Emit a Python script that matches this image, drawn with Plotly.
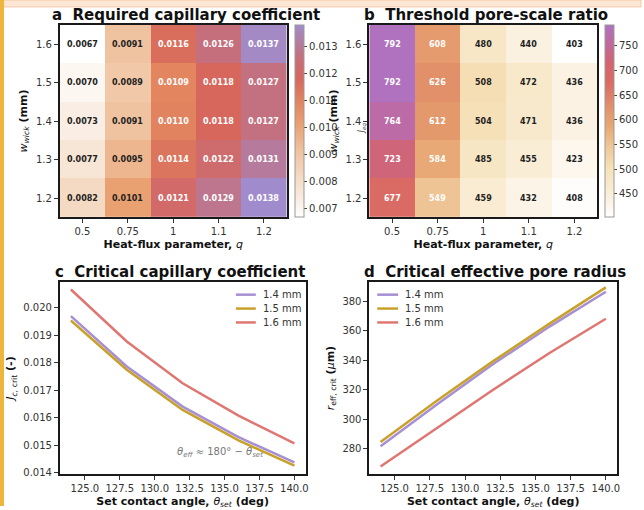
import plotly.graph_objects as go

W, H = 644, 510

q_labels = ["0.5", "0.75", "1", "1.1", "1.2"]
w_wick = [1.2, 1.3, 1.4, 1.5, 1.6]

# rows follow w_wick order (1.2 -> 1.6)
jc_req = [
    [0.0082, 0.0101, 0.0121, 0.0129, 0.0138],
    [0.0077, 0.0095, 0.0114, 0.0122, 0.0131],
    [0.0073, 0.0091, 0.0110, 0.0118, 0.0127],
    [0.0070, 0.0089, 0.0109, 0.0118, 0.0127],
    [0.0067, 0.0091, 0.0116, 0.0126, 0.0137],
]
ratio = [
    [677, 549, 459, 432, 408],
    [723, 584, 485, 455, 423],
    [764, 612, 504, 471, 436],
    [792, 626, 508, 472, 436],
    [792, 608, 480, 440, 403],
]

theta_set = [124, 128, 132, 136, 140]
series_names = ["1.4 mm", "1.5 mm", "1.6 mm"]
jc_crit = [
    [0.01970, 0.01787, 0.01641, 0.01530, 0.01438],
    [0.01954, 0.01775, 0.01629, 0.01518, 0.01426],
    [0.02067, 0.01878, 0.01726, 0.01608, 0.01507],
]
r_crit = [
    [281.6, 310.0, 337.5, 363.0, 386.7],
    [284.4, 312.5, 339.5, 365.0, 389.7],
    [267.8, 294.0, 320.0, 345.0, 368.3],
]
line_colors = ["#a68fd2", "#c9a12a", "#e07672"]

FONT = "DejaVu Sans"


def px(x):
    return x / W


def py(y):
    return 1 - y / H


cs_a = [
    [0.0, "#ffffff"], [0.1, "#f9ebdf"], [0.2, "#f5dcc6"], [0.35, "#f0c19d"],
    [0.48, "#eaa172"], [0.6, "#e2845f"], [0.72, "#d7675d"], [0.84, "#c4707e"],
    [1.0, "#a08ccc"],
]
cs_b = [
    [0.0, "#ffffff"], [0.1, "#fbf0de"], [0.25, "#f6e2ba"], [0.37, "#efc696"],
    [0.47, "#e8a874"], [0.56, "#e3946a"], [0.7, "#da6b64"], [0.8, "#d3646f"],
    [0.9, "#c2689c"], [1.0, "#b071bf"],
]

fig = go.Figure()

ha_x = [px(60), px(288)]
hb_x = [px(371), px(600)]
h_y = [py(219), py(25)]
lc_x = [px(60), px(307)]
ld_x = [px(371), px(620)]
l_y = [py(478), py(284)]

cb_common = dict(
    thickness=9, len=h_y[1] - h_y[0], lenmode="fraction", y=(h_y[0] + h_y[1]) / 2,
    yanchor="middle", xanchor="left", xpad=0, ypad=0, outlinewidth=1,
    outlinecolor="#999999", ticks="outside", ticklen=3, tickcolor="#444",
    tickfont=dict(family=FONT, size=10, color="#333"),
)

fig.add_trace(go.Heatmap(
    z=jc_req, x=q_labels, y=w_wick, colorscale=cs_a, xaxis="x", yaxis="y",
    zmin=0.0067, zmax=0.0138,
    colorbar=dict(x=px(296), tickvals=[0.007, 0.008, 0.009, 0.010, 0.011, 0.012, 0.013],
                  tickformat=".3f", **cb_common),
))
fig.add_trace(go.Heatmap(
    z=ratio, x=q_labels, y=w_wick, colorscale=cs_b, xaxis="x2", yaxis="y2",
    zmin=403, zmax=792,
    colorbar=dict(x=px(608), tickvals=[450, 500, 550, 600, 650, 700, 750], **cb_common),
))

annotations = []
for i, w in enumerate(w_wick):
    for j, q in enumerate(q_labels):
        va = jc_req[i][j]
        annotations.append(dict(
            x=j, y=w, xref="x", yref="y", text=f"<b>{va:.4f}</b>", showarrow=False,
            font=dict(family=FONT, size=8, color="#ffffff" if va > 0.0105 else "#222222")))
        vb = ratio[i][j]
        annotations.append(dict(
            x=j, y=w, xref="x2", yref="y2", text=f"<b>{vb}</b>", showarrow=False,
            font=dict(family=FONT, size=8, color="#ffffff" if vb > 530 else "#222222")))

for k, name in enumerate(series_names):
    fig.add_trace(go.Scatter(
        x=theta_set, y=jc_crit[k], mode="lines", name=name, xaxis="x3", yaxis="y3",
        line=dict(color=line_colors[k], width=2.5), showlegend=False))
    fig.add_trace(go.Scatter(
        x=theta_set, y=r_crit[k], mode="lines", name=name, xaxis="x4", yaxis="y4",
        line=dict(color=line_colors[k], width=2.5), showlegend=False))

tick_font = dict(family=FONT, size=10, color="#333")
ax_title_font = dict(family=FONT, size=11, color="#111")
axis_common = dict(
    showline=True, mirror=True, linecolor="#1a1a1a", linewidth=1.6, ticks="outside",
    ticklen=4, tickwidth=1, tickcolor="#333", tickfont=tick_font, showgrid=False,
    zeroline=False,
)

heat_x = dict(axis_common, type="category", title=dict(
    text="<b>Heat-flux parameter, </b><i>q</i>", font=ax_title_font, standoff=4))
heat_y = dict(axis_common, tickvals=w_wick, ticktext=[f"{v:.1f}" for v in w_wick],
              title=dict(text="<i>w</i><sub><i>wick</i></sub><b> (mm)</b>",
                         font=ax_title_font, standoff=6))

theta_title = dict(text="<b>Set contact angle, </b><i>θ</i><sub><i>set</i></sub><b> (deg)</b>",
                   font=ax_title_font, standoff=4)
line_x = dict(axis_common, range=[123.2, 140.8], tickvals=[125, 127.5, 130, 132.5, 135, 137.5, 140],
              tickformat=".1f", title=theta_title)

fig.update_layout(
    width=W, height=H, margin=dict(l=0, r=0, t=0, b=0),
    paper_bgcolor="white", plot_bgcolor="white",
    font=dict(family=FONT, color="#222"),
    xaxis=dict(heat_x, domain=ha_x, anchor="y"),
    yaxis=dict(heat_y, domain=h_y, anchor="x"),
    xaxis2=dict(heat_x, domain=hb_x, anchor="y2"),
    yaxis2=dict(heat_y, domain=h_y, anchor="x2"),
    xaxis3=dict(line_x, domain=lc_x, anchor="y3"),
    yaxis3=dict(axis_common, domain=l_y, anchor="x3", range=[0.01395, 0.02095],
                tickvals=[0.014, 0.015, 0.016, 0.017, 0.018, 0.019, 0.020], tickformat=".3f",
                title=dict(text="<i>J</i><sub><i>c,</i> crit</sub><b> (-)</b>", font=ax_title_font, standoff=6)),
    xaxis4=dict(line_x, domain=ld_x, anchor="y4"),
    yaxis4=dict(axis_common, domain=l_y, anchor="x4", range=[262.5, 393.5],
                tickvals=[280, 300, 320, 340, 360, 380],
                title=dict(text="<i>r</i><sub>eff, crit</sub><b> (</b><i>μ</i><b>m)</b>", font=ax_title_font, standoff=6)),
)

titles = [
    ("<b>a  Required capillary coefficient</b>", 187, 15),
    ("<b>b  Threshold pore-scale ratio</b>", 488, 15),
    ("<b>c  Critical capillary coefficient</b>", 181, 274),
    ("<b>d  Critical effective pore radius</b>", 497, 274),
]
for t, x, y in titles:
    annotations.append(dict(text=t, x=px(x), y=py(y), xref="paper", yref="paper",
                            showarrow=False, xanchor="center", yanchor="middle",
                            font=dict(family=FONT, size=15, color="#111")))

annotations.append(dict(text="<i>θ</i><sub><i>eff</i></sub> ≈ 180° − <i>θ</i><sub><i>set</i></sub>",
                        x=134.7, y=0.01473, xref="x3", yref="y3", showarrow=False,
                        font=dict(family=FONT, size=10, color="#777")))
annotations.append(dict(text="<i>J</i><sub><i>eq</i></sub>", x=px(364), y=py(121),
                        xref="paper", yref="paper", showarrow=False, textangle=-90,
                        font=dict(family=FONT, size=8, color="#444")))

# manual legends (compact, matplotlib-like)
shapes = [
    dict(type="rect", xref="paper", yref="paper", x0=0, x1=1, y0=py(7), y1=1,
         fillcolor="#fde6d3", line=dict(color="#f3c9a4", width=1), layer="below"),
    dict(type="rect", xref="paper", yref="paper", x0=0, x1=px(4), y0=0, y1=1,
         fillcolor="#ecb53c", line=dict(width=0), layer="below"),
]
legend_pos = [(237, 257, 262), (379, 400, 405)]
for lx0, lx1, tx in legend_pos:
    for k, name in enumerate(series_names):
        yy = 297 + 14 * k
        shapes.append(dict(type="line", xref="paper", yref="paper", x0=px(lx0), x1=px(lx1),
                           y0=py(yy), y1=py(yy), line=dict(color=line_colors[k], width=2.5)))
        annotations.append(dict(text=name, x=px(tx), y=py(yy), xref="paper", yref="paper",
                                showarrow=False, xanchor="left", yanchor="middle",
                                font=dict(family=FONT, size=10, color="#333")))

fig.update_layout(annotations=annotations, shapes=shapes)

fig.write_html("out.html")
